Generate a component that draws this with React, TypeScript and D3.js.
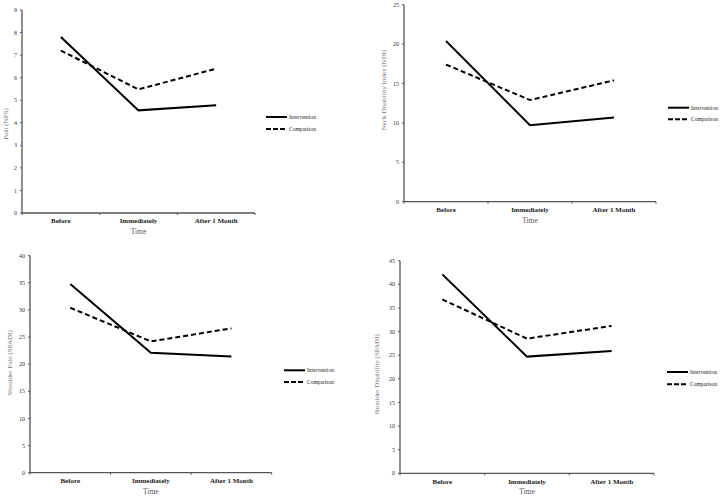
import React from "react";
import * as d3 from "d3";

const categories = ["Before", "Immediately", "After 1 Month"];
const seriesNames = ["Intervention", "Comparison"];

const painIntervention = [7.8, 4.55, 4.78];
const painComparison = [7.2, 5.48, 6.4];
const painTicks = [0, 1, 2, 3, 4, 5, 6, 7, 8, 9];

const ndiIntervention = [20.4, 9.7, 10.7];
const ndiComparison = [17.4, 12.9, 15.4];
const ndiTicks = [0, 5, 10, 15, 20, 25];

const spadiPainIntervention = [34.8, 22.1, 21.4];
const spadiPainComparison = [30.4, 24.2, 26.6];
const spadiPainTicks = [0, 5, 10, 15, 20, 25, 30, 35, 40];

const spadiDisIntervention = [42.1, 24.7, 25.9];
const spadiDisComparison = [36.8, 28.5, 31.2];
const spadiDisTicks = [0, 5, 10, 15, 20, 25, 30, 35, 40, 45];

const FONT = "'Liberation Serif', 'Times New Roman', serif";

type PanelProps = {
  x0: number;
  x1: number;
  yTop: number;
  yZero: number;
  ticks: number[];
  intervention: number[];
  comparison: number[];
  yTitle: string;
  yTitleX: number;
  yTitleY: number;
  legendX: number;
  legendY: number;
  legendGap: number;
};

function Panel(p: PanelProps) {
  const yMax = p.ticks[p.ticks.length - 1];
  const y = d3.scaleLinear().domain([0, yMax]).range([p.yZero, p.yTop]);
  const x = d3.scaleBand<string>().domain(categories).range([p.x0, p.x1]);
  const cx = (c: string) => (x(c) as number) + x.bandwidth() / 2;
  const line = d3
    .line<number>()
    .x((_, i) => cx(categories[i]))
    .y((d) => y(d));
  const boundaries = [p.x0, ...categories.map((c) => (x(c) as number) + x.bandwidth())];
  const axisColor = "#555";
  return (
    <g>
      <line x1={p.x0} x2={p.x0} y1={p.yTop} y2={p.yZero} stroke={axisColor} strokeWidth={1.3} />
      {p.ticks.map((t) => (
        <g key={t}>
          <line x1={p.x0 - 2} x2={p.x0} y1={y(t)} y2={y(t)} stroke={axisColor} strokeWidth={1} />
          <text
            x={p.x0 - 5}
            y={y(t)}
            dy="0.35em"
            textAnchor="end"
            fontSize={6}
            fill="#333"
            fontFamily={FONT}
          >
            {t}
          </text>
        </g>
      ))}
      <line x1={p.x0} x2={p.x1} y1={p.yZero} y2={p.yZero} stroke={axisColor} strokeWidth={1.3} />
      {boundaries.map((b, i) => (
        <line key={i} x1={b} x2={b} y1={p.yZero} y2={p.yZero + 2} stroke={axisColor} strokeWidth={1} />
      ))}
      {categories.map((c) => (
        <text
          key={c}
          x={cx(c)}
          y={p.yZero + 8}
          dy="0.35em"
          textAnchor="middle"
          fontSize={7}
          fontWeight={600}
          fill="#222"
          fontFamily={FONT}
        >
          {c}
        </text>
      ))}
      <text
        x={(p.x0 + p.x1) / 2}
        y={p.yZero + 18.5}
        dy="0.35em"
        textAnchor="middle"
        fontSize={7.5}
        fill="#555"
        fontFamily={FONT}
      >
        Time
      </text>
      <text
        transform={`translate(${p.yTitleX},${p.yTitleY}) rotate(-90)`}
        dy="0.35em"
        textAnchor="middle"
        fontSize={7}
        fill="#777"
        fontFamily={FONT}
      >
        {p.yTitle}
      </text>
      <path d={line(p.intervention) || ""} fill="none" stroke="#000" strokeWidth={2} />
      <path
        d={line(p.comparison) || ""}
        fill="none"
        stroke="#000"
        strokeWidth={2}
        strokeDasharray="5,3"
      />
      {seriesNames.map((s, i) => (
        <g key={s}>
          <line
            x1={p.legendX}
            x2={p.legendX + 21}
            y1={p.legendY + i * p.legendGap}
            y2={p.legendY + i * p.legendGap}
            stroke="#000"
            strokeWidth={2}
            strokeDasharray={i === 1 ? "5,2" : undefined}
          />
          <text
            x={p.legendX + 23}
            y={p.legendY + i * p.legendGap}
            dy="0.35em"
            fontSize={5.5}
            fill="#222"
            fontFamily={FONT}
          >
            {s}
          </text>
        </g>
      ))}
    </g>
  );
}

export default function App() {
  return (
    <svg
      width={722}
      height={498}
      style={{ position: "absolute", left: 0, top: 0, background: "#fff" }}
    >
      <rect width={722} height={498} fill="#fff" />
      <Panel
        x0={22}
        x1={255}
        yTop={10}
        yZero={213}
        ticks={painTicks}
        intervention={painIntervention}
        comparison={painComparison}
        yTitle="Pain (NPS)"
        yTitleX={6}
        yTitleY={124}
        legendX={266}
        legendY={117}
        legendGap={12}
      />
      <Panel
        x0={404}
        x1={656}
        yTop={4.7}
        yZero={201.7}
        ticks={ndiTicks}
        intervention={ndiIntervention}
        comparison={ndiComparison}
        yTitle="Neck Disability Index (NDI)"
        yTitleX={384}
        yTitleY={90}
        legendX={668}
        legendY={107.7}
        legendGap={11.6}
      />
      <Panel
        x0={30}
        x1={271.7}
        yTop={255.7}
        yZero={472.7}
        ticks={spadiPainTicks}
        intervention={spadiPainIntervention}
        comparison={spadiPainComparison}
        yTitle="Shoulder Pain (SPADI)"
        yTitleX={10}
        yTitleY={363}
        legendX={284}
        legendY={370.3}
        legendGap={11.7}
      />
      <Panel
        x0={400}
        x1={654}
        yTop={260.7}
        yZero={473.3}
        ticks={spadiDisTicks}
        intervention={spadiDisIntervention}
        comparison={spadiDisComparison}
        yTitle="Shoulder Disability (SPADI)"
        yTitleX={376.7}
        yTitleY={374.5}
        legendX={667}
        legendY={372}
        legendGap={12.3}
      />
    </svg>
  );
}
